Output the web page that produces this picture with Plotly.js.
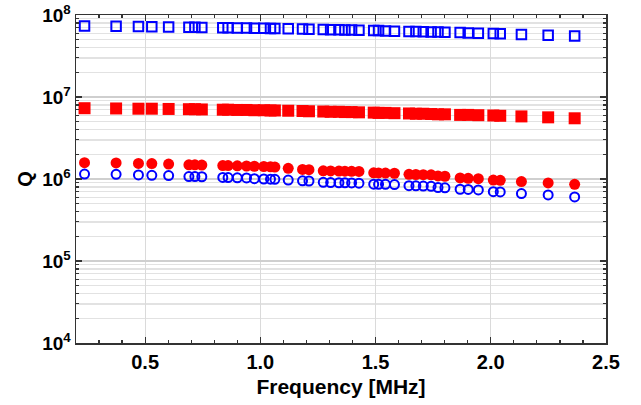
<!DOCTYPE html>
<html>
<head>
<meta charset="utf-8">
<script src="https://cdn.plot.ly/plotly-3.0.1.min.js"></script>
<style>html,body{margin:0;padding:0;background:#fff;}#chart{width:641px;height:405px;}</style>
</head>
<body>
<div id="chart"></div>
<script>
// Frequency [MHz]
var frequency = [0.237,0.374,0.471,0.529,0.602,0.690,0.716,0.746,0.837,0.860,0.900,0.940,0.974,1.015,1.044,1.063,1.121,1.183,1.211,1.273,1.305,1.341,1.367,1.396,1.428,1.492,1.513,1.543,1.582,1.645,1.675,1.707,1.741,1.771,1.801,1.867,1.902,1.946,2.011,2.041,2.133,2.249,2.364];
// blue open squares
var qBlueSquares = [7.35e7,7.3e7,7.25e7,7.2e7,7.15e7,7.1e7,7.1e7,7.05e7,7.0e7,7.0e7,6.95e7,6.95e7,6.9e7,6.9e7,6.85e7,6.85e7,6.8e7,6.75e7,6.7e7,6.65e7,6.6e7,6.6e7,6.55e7,6.55e7,6.5e7,6.45e7,6.45e7,6.4e7,6.35e7,6.3e7,6.3e7,6.25e7,6.2e7,6.2e7,6.15e7,6.1e7,6.05e7,6.0e7,5.95e7,5.9e7,5.8e7,5.65e7,5.55e7];
// red filled squares
var qRedSquares = [7.3e6,7.25e6,7.2e6,7.2e6,7.15e6,7.1e6,7.1e6,7.05e6,7.0e6,7.0e6,6.95e6,6.95e6,6.9e6,6.9e6,6.85e6,6.85e6,6.8e6,6.75e6,6.7e6,6.65e6,6.6e6,6.6e6,6.55e6,6.55e6,6.5e6,6.45e6,6.4e6,6.4e6,6.35e6,6.3e6,6.25e6,6.25e6,6.2e6,6.15e6,6.15e6,6.05e6,6.05e6,6.0e6,5.95e6,5.9e6,5.8e6,5.65e6,5.5e6];
// red filled circles
var qRedCircles = [1.58e6,1.57e6,1.55e6,1.54e6,1.52e6,1.49e6,1.49e6,1.48e6,1.46e6,1.46e6,1.45e6,1.44e6,1.43e6,1.42e6,1.41e6,1.40e6,1.35e6,1.31e6,1.30e6,1.26e6,1.255e6,1.25e6,1.245e6,1.24e6,1.235e6,1.19e6,1.185e6,1.18e6,1.175e6,1.14e6,1.135e6,1.13e6,1.125e6,1.09e6,1.08e6,1.03e6,1.02e6,1.01e6,9.7e5,9.65e5,9.3e5,8.95e5,8.6e5];
// blue open circles
var qBlueCircles = [1.15e6,1.14e6,1.12e6,1.11e6,1.10e6,1.07e6,1.07e6,1.065e6,1.045e6,1.04e6,1.035e6,1.03e6,1.01e6,1.0e6,9.95e5,9.9e5,9.7e5,9.5e5,9.45e5,9.1e5,9.05e5,9.0e5,9.0e5,8.95e5,8.9e5,8.65e5,8.6e5,8.6e5,8.55e5,8.3e5,8.25e5,8.2e5,8.15e5,7.85e5,7.8e5,7.5e5,7.45e5,7.35e5,7.0e5,6.95e5,6.65e5,6.4e5,6.05e5];

var xTickVals = [0.5,1.0,1.5,2.0,2.5];
var xTickText = ['0.5','1.0','1.5','2.0','2.5'];
var yTickVals = [1e4,1e5,1e6,1e7,1e8];
var yTickText = ['10<sup>4</sup>','10<sup>5</sup>','10<sup>6</sup>','10<sup>7</sup>','10<sup>8</sup>'];

var BLUE = '#0000ff', RED = '#ff0000';
var traces = [
  {x: frequency, y: qBlueSquares, mode:'markers', type:'scatter', cliponaxis:false,
   marker:{symbol:'square-open', size:9.5, color:BLUE, line:{width:2, color:BLUE}}},
  {x: frequency, y: qRedSquares, mode:'markers', type:'scatter', cliponaxis:false,
   marker:{symbol:'square', size:12, color:RED, line:{width:0}}},
  {x: frequency, y: qRedCircles, mode:'markers', type:'scatter', cliponaxis:false,
   marker:{symbol:'circle', size:11, color:RED, line:{width:0}}},
  {x: frequency, y: qBlueCircles, mode:'markers', type:'scatter', cliponaxis:false,
   marker:{symbol:'circle-open', size:9, color:BLUE, line:{width:2, color:BLUE}}}
];

var font = {family:'Liberation Sans, Arial, sans-serif', size:20, color:'#000', weight:'bold'};
var layout = {
  width:641, height:405,
  margin:{l:76, r:35, t:15, b:62, pad:0},
  paper_bgcolor:'#fff', plot_bgcolor:'#fff',
  showlegend:false,
  font: font,
  xaxis:{
    range:[0.2,2.5], tickmode:'array', tickvals:xTickVals, ticktext:xTickText,
    ticks:'inside', ticklen:6, tickwidth:1.2, tickcolor:'#333',
    showline:true, linecolor:'#333', linewidth:1.5, mirror:'ticks',
    showgrid:true, gridcolor:'#dadada', gridwidth:1.2, zeroline:false,
    minor:{dtick:0.1, tick0:0, ticks:'inside', ticklen:3, tickcolor:'#333', showgrid:false},
    tickfont:font,
    title:{text:'Frequency [MHz]', font:{family:font.family, size:21, color:'#000', weight:'bold'}, standoff:8}
  },
  yaxis:{
    type:'log', range:[3.9999,8.0001], tickmode:'array', tickvals:yTickVals, ticktext:yTickText,
    ticks:'inside', ticklen:6, tickwidth:1.2, tickcolor:'#333',
    showline:true, linecolor:'#333', linewidth:1.5, mirror:'ticks',
    showgrid:true, gridcolor:'#cfcfcf', gridwidth:1.3, zeroline:false,
    minor:{dtick:'D1', ticks:'inside', ticklen:3, tickcolor:'#333', showgrid:true, gridcolor:'#e2e2e2', gridwidth:1.3},
    tickfont:{family:font.family, size:19, color:'#000', weight:'bold'},
    title:{text:'Q', font:{family:font.family, size:20, color:'#000', weight:'bold'}, standoff:4}
  }
};
Plotly.newPlot('chart', traces, layout, {staticPlot:true, displayModeBar:false});
</script>
</body>
</html>
